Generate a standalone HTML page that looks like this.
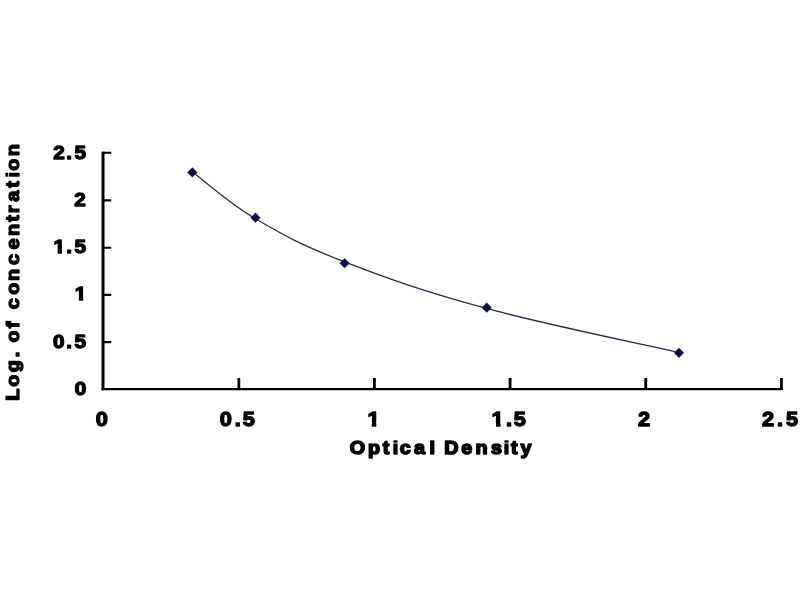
<!DOCTYPE html>
<html><head><meta charset="utf-8"><title>Standard curve</title><style>
html,body{margin:0;padding:0;background:#fff;}
svg{display:block;}
text{font-family:"Liberation Sans",Arial,sans-serif;font-weight:bold;fill:#000;stroke:#000;stroke-linejoin:round;}
</style></head><body>
<svg width="800" height="600" viewBox="0 0 800 600">
<rect width="800" height="600" fill="#fff"/>
<defs><clipPath id="c0" clipPathUnits="userSpaceOnUse"><path clip-rule="evenodd" d="M-1000,-1000H1000V1000H-1000Z M48.63,249.63H52.43V254.45H48.63Z M56.31,249.63H59.87V254.45H56.31Z"/></clipPath><clipPath id="c1" clipPathUnits="userSpaceOnUse"><path clip-rule="evenodd" d="M-1000,-1000H1000V1000H-1000Z M67.90,296.93H71.70V301.75H67.90Z M75.58,296.93H79.15V301.75H75.58Z"/></clipPath><clipPath id="c2" clipPathUnits="userSpaceOnUse"><path clip-rule="evenodd" d="M-1000,-1000H1000V1000H-1000Z M334.06,422.03H338.03V426.95H334.06Z M342.05,422.03H345.77V426.95H342.05Z"/></clipPath><clipPath id="c3" clipPathUnits="userSpaceOnUse"><path clip-rule="evenodd" d="M-1000,-1000H1000V1000H-1000Z M446.92,422.03H450.90V426.95H446.92Z M454.91,422.03H458.64V426.95H454.91Z"/></clipPath><clipPath id="c4" clipPathUnits="userSpaceOnUse"><path clip-rule="evenodd" d="M-1000,-1000H1000V1000H-1000Z M381.26,442.44H386.70V443.44H381.26Z M488.93,442.44H494.37V443.44H488.93Z"/></clipPath><clipPath id="c5" clipPathUnits="userSpaceOnUse"><path clip-rule="evenodd" d="M-1000,-1000H1000V1000H-1000Z M-158.54,-10.75H-153.60V-9.75H-158.54Z"/></clipPath></defs>
<path d="M103.00,151.65 V390.30" stroke="#000" stroke-width="3.0"/>
<path d="M101.50,389.15 H782.85" stroke="#000" stroke-width="2.3"/>
<path d="M103.00,152.75H111.20 M103.00,200.30H111.20 M103.00,247.75H111.20 M103.00,294.85H111.20 M103.00,342.15H111.20" stroke="#000" stroke-width="2.2"/>
<path d="M238.85,389.15V378.00 M374.40,389.15V378.00 M510.10,389.15V378.00 M645.75,389.15V378.00 M781.45,389.15V378.00" stroke="#000" stroke-width="2.8"/>
<text style="font-size:18.8px;stroke-width:1.30px" transform="scale(1.1,1)" x="48.32 60.22 67.79" y="158.7">2.5</text>
<text style="font-size:18.8px;stroke-width:1.30px" transform="scale(1.1,1)" x="67.60" y="205.9">2</text>
<text style="font-size:18.8px;stroke-width:1.30px" transform="scale(1.1,1)" clip-path="url(#c0)" x="48.69 60.22 67.79" y="253.2">1.5</text>
<text style="font-size:18.8px;stroke-width:1.30px" transform="scale(1.1,1)" clip-path="url(#c1)" x="67.96" y="300.5">1</text>
<text style="font-size:18.8px;stroke-width:1.30px" transform="scale(1.1,1)" x="48.29 60.22 67.79" y="347.9">0.5</text>
<text style="font-size:18.8px;stroke-width:1.30px" transform="scale(1.1,1)" x="68.06" y="395.2">0</text>
<text style="font-size:19.8px;stroke-width:1.30px" transform="scale(1.1,1)" x="87.12" y="425.7">0</text>
<text style="font-size:19.8px;stroke-width:1.30px" transform="scale(1.1,1)" x="199.78 213.30 220.74" y="425.7">0.5</text>
<text style="font-size:19.8px;stroke-width:1.30px" transform="scale(1.1,1)" clip-path="url(#c2)" x="334.06" y="425.7">1</text>
<text style="font-size:19.8px;stroke-width:1.30px" transform="scale(1.1,1)" clip-path="url(#c3)" x="446.93 459.90 467.10" y="425.7">1.5</text>
<text style="font-size:19.8px;stroke-width:1.30px" transform="scale(1.1,1)" x="580.09" y="425.7">2</text>
<text style="font-size:19.8px;stroke-width:1.30px" transform="scale(1.1,1)" x="692.82 706.30 714.51" y="425.7">2.5</text>
<text style="font-size:19.2px;stroke-width:1.60px" transform="scale(1.03,1)" clip-path="url(#c4)" x="339.68 357.39 371.66 381.32 388.06 401.89 417.10 422.43 431.27 447.87 461.62 476.80 488.99 496.17 505.27" y="454.0">Optical Density</text>
<text style="font-size:17.8px;stroke-width:1.30px" transform="translate(19.0,0) rotate(-90) scale(1.12,1)" clip-path="url(#c5)" x="-357.81 -345.26 -332.35 -318.98 -314.04 -305.84 -293.09 -287.16 -276.20 -263.12 -250.92 -236.55 -222.81 -210.83 -198.05 -190.30 -180.22 -167.70 -158.54 -152.45 -139.58" y="0">Log. of concentration</text>
<path d="M192.30,171.80 C204.12,180.58 227.15,201.98 255.60,218.81 C284.05,235.64 301.45,245.13 344.60,261.88 C387.75,278.63 424.13,291.55 486.60,308.47 C549.07,325.39 643.06,344.23 679.00,352.44" fill="none" stroke="#2c2c40" stroke-width="1.3"/>
<path d="M192.30,167.55L197.20,172.45L192.30,177.35L187.40,172.45ZM255.50,212.75L260.40,217.65L255.50,222.55L250.60,217.65ZM344.60,258.25L349.50,263.15L344.60,268.05L339.70,263.15ZM486.80,302.80L491.70,307.70L486.80,312.60L481.90,307.70ZM679.00,347.95L683.90,352.85L679.00,357.75L674.10,352.85Z" fill="#0c1040" stroke="#0c1040" stroke-width="0.3"/>
</svg>
</body></html>
